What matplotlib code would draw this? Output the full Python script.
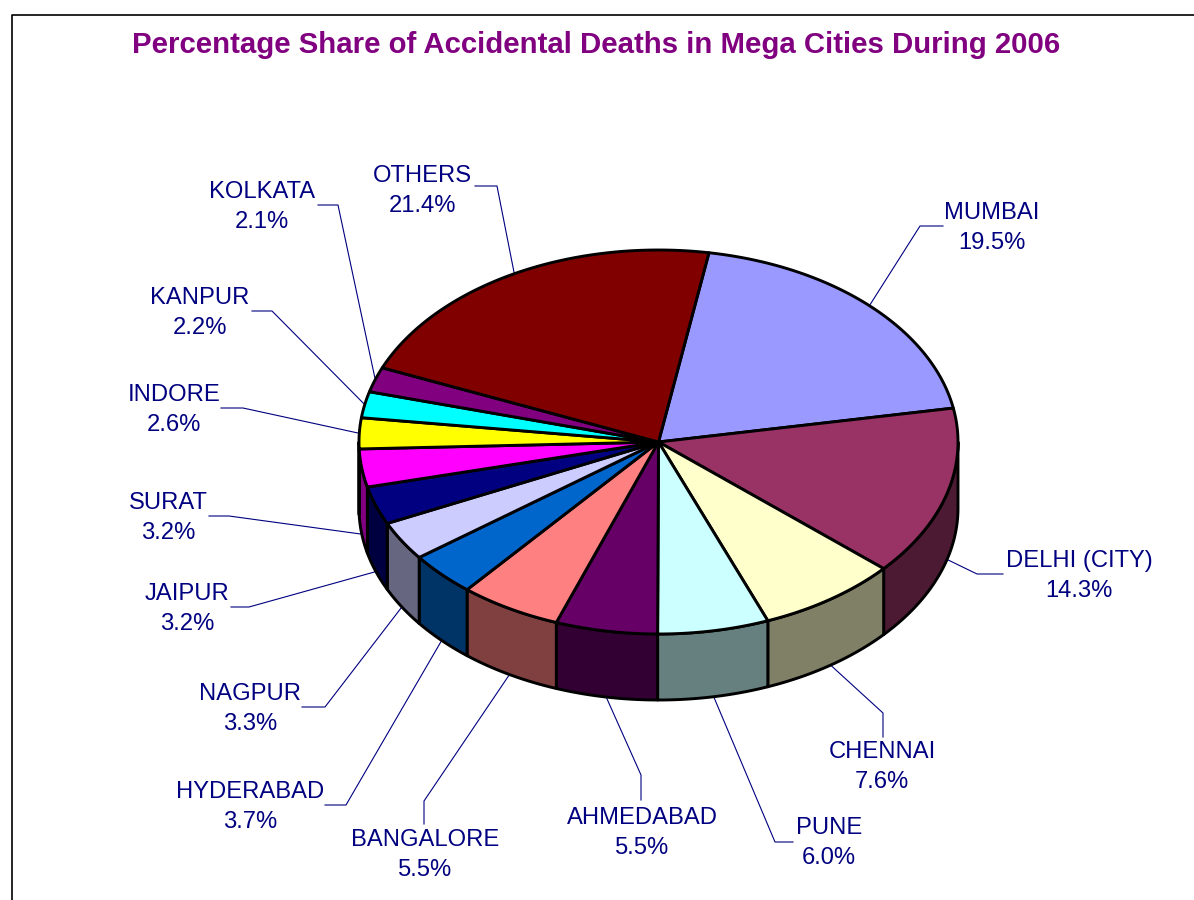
import numpy as np
import matplotlib
matplotlib.use('Agg')
import matplotlib.pyplot as plt

plt.rcParams['font.family'] = ['Liberation Sans', 'DejaVu Sans']

title = 'Percentage Share of Accidental Deaths in Mega Cities During 2006'

cities = ['MUMBAI', 'DELHI (CITY)', 'CHENNAI', 'PUNE', 'AHMEDABAD', 'BANGALORE', 'HYDERABAD',
          'NAGPUR', 'JAIPUR', 'SURAT', 'INDORE', 'KANPUR', 'KOLKATA', 'OTHERS']
shares = [19.5, 14.3, 7.6, 6.0, 5.5, 5.5, 3.7, 3.3, 3.2, 3.2, 2.6, 2.2, 2.1, 21.4]
top_colors = ['#9999FF', '#993366', '#FFFFCC', '#CCFFFF', '#660066', '#FF8080', '#0066CC',
              '#CCCCFF', '#000080', '#FF00FF', '#FFFF00', '#00FFFF', '#800080', '#800000']
side_colors = ['#666699', '#4D1A33', '#808066', '#668080', '#330033', '#804040', '#003366',
               '#666680', '#000040', '#800080', '#808000', '#008080', '#400040', '#400000']

# layout in pixels of the 1194x900 picture
label_pos = [(992, 228), (1079, 576), (882, 767), (829, 843), (642, 833), (425, 855), (250, 807),
             (250, 709), (187, 609), (168, 518), (174, 410), (200, 313), (262, 207), (422, 191)]
leader_start = [(943, 226), (1003, 574), (883, 737), (793, 842), (641, 800), (424, 824), (325, 805),
                (302, 707), (231, 607), (209, 516), (221, 408), (252, 311), (318, 205), (475, 186)]
leader_elbow = [(920, 226), (977, 574), (883, 713), (775, 842), (641, 775), (424, 801), (346, 805),
                (325, 707), (249, 607), (229, 516), (243, 408), (272, 311), (338, 205), (497, 186)]

cx, cy = 658.5, 442
rx, ry = 299.5, 192
depth = 66
start_angle = 9.7
navy = '#000080'
edge_w = 2.1


def ellipse_xy(t):
    t = np.radians(t)
    return cx + rx * np.sin(t), cy - ry * np.cos(t)


fig = plt.figure(figsize=(11.94, 9), dpi=100)
ax = fig.add_axes([0, 0, 1, 1])
ax.set_xlim(0, 1194)
ax.set_ylim(900, 0)
ax.axis('off')

# chart frame, runs off the picture on the right and bottom
ax.plot([11.5, 11.5, 1194], [900, 14.5, 14.5], color='black', lw=1.2, zorder=1)

edges = start_angle + np.cumsum([0] + shares) * 360 / sum(shares)

for i, city in enumerate(cities):
    a, b = edges[i], edges[i + 1]

    # side wall, only the front half of the cake shows
    sa, sb = max(a, 90), min(b, 270)
    if sa < sb:
        t = np.linspace(sa, sb, 60)
        x, y = ellipse_xy(t)
        ax.fill(np.r_[x, x[::-1]], np.r_[y, y[::-1] + depth], facecolor=side_colors[i],
                edgecolor='black', lw=edge_w, joinstyle='round', zorder=3)

    # leader goes to the middle of the slice on the outer edge
    mid = (a + b) / 2
    mx, my = ellipse_xy(mid)
    if 90 < mid < 270:
        my = my + depth
    xs = [leader_start[i][0], leader_elbow[i][0], mx]
    ys = [leader_start[i][1], leader_elbow[i][1], my]
    ax.plot(xs, ys, color=navy, lw=0.8, zorder=2)

    ax.text(label_pos[i][0], label_pos[i][1], f'{city}\n{shares[i]:.1f}%', color=navy,
            fontsize=17.1, ha='center', va='center', linespacing=1.47, zorder=5)

# top faces go on last so their outlines stay on top of the walls
for i in range(len(cities)):
    t = np.linspace(edges[i], edges[i + 1], 100)
    x, y = ellipse_xy(t)
    ax.fill(np.r_[cx, x], np.r_[cy, y], facecolor=top_colors[i], edgecolor='black',
            lw=edge_w, joinstyle='round', zorder=4)

ax.text(596.5, 45, title, color='#800080', fontsize=21.2, fontweight='bold',
        ha='center', va='center', zorder=5)

fig.savefig('out.png', dpi=100)
